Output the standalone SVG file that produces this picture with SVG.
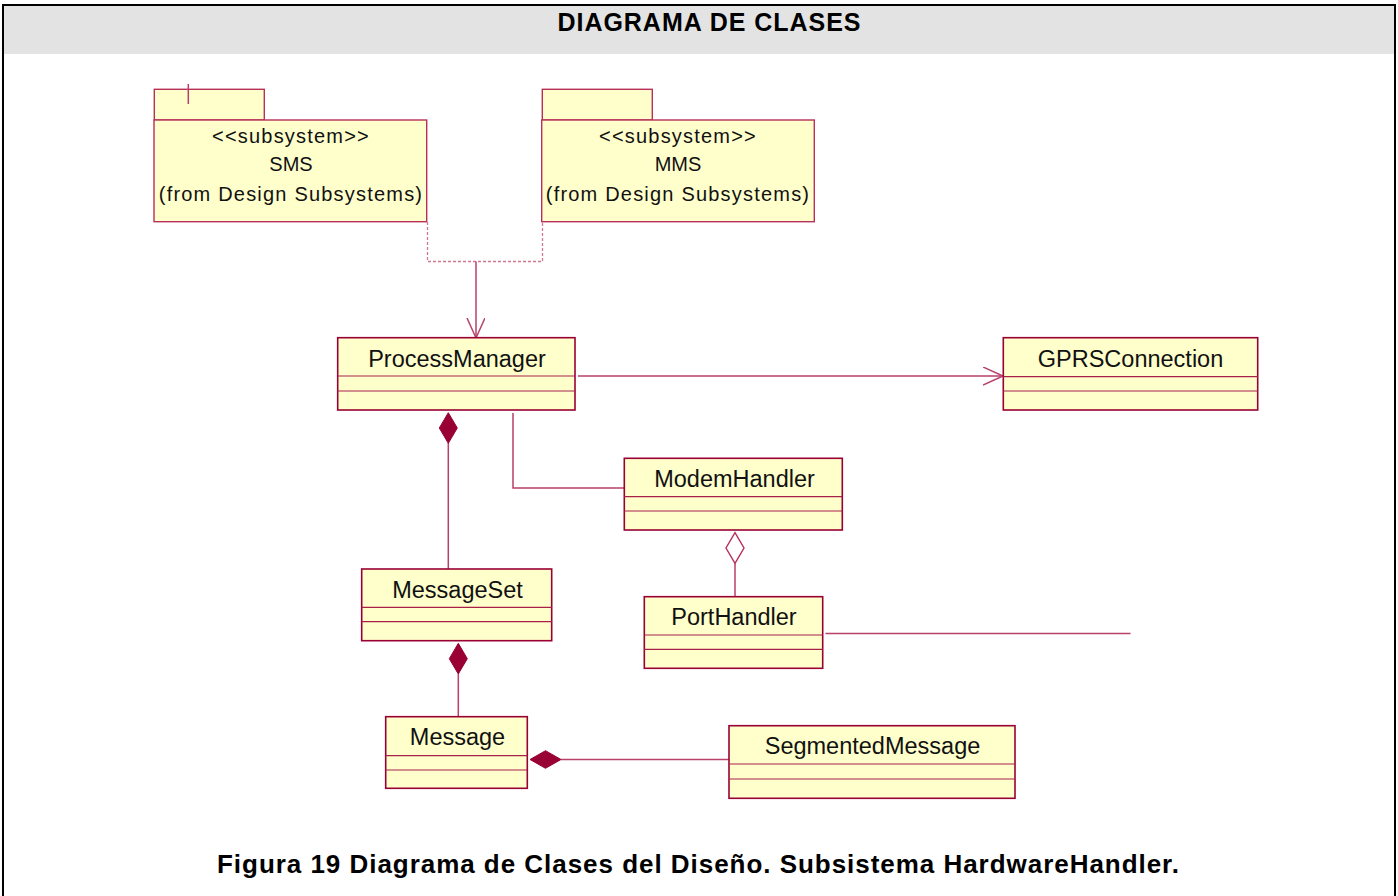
<svg xmlns="http://www.w3.org/2000/svg" width="1398" height="896" viewBox="0 0 1398 896">
  <defs>
    <style>
      .cls { fill: #FFFFCC; stroke: #990033; stroke-width: 1.6; }
      .div { stroke: #A8204A; stroke-width: 1.2; }
      .pkg { fill: #FFFFCC; stroke: #B8305A; stroke-width: 1.4; }
      .name { font-family: "Liberation Sans", Arial, sans-serif; font-size: 23.5px; fill: #111; text-anchor: middle; }
      .sub { font-family: "Liberation Sans", Arial, sans-serif; font-size: 20px; fill: #111; text-anchor: middle; letter-spacing: 1.2px; }
      .conn { stroke: #B8406A; stroke-width: 1.5; fill: none; }
      .dep { stroke: #D07890; stroke-width: 1.3; fill: none; stroke-dasharray: 3 2; }
      .frame { stroke: #000; stroke-width: 2; fill: none; }
      .head { font-family: "Liberation Sans", Arial, sans-serif; font-weight: bold; fill: #000; text-anchor: middle; }
    </style>
    <marker id="open" markerWidth="22" markerHeight="20" refX="20" refY="9" orient="auto" markerUnits="userSpaceOnUse">
      <path d="M0,0 L20,9 L0,18" fill="none" stroke="#B8406A" stroke-width="1.5"/>
    </marker>
  </defs>

  <!-- page frame and header band -->
  <rect x="3" y="6" width="1392" height="48" fill="#E3E3E3"/>
  <line class="frame" x1="3" y1="5" x2="1395" y2="5"/>
  <line class="frame" x1="3" y1="4" x2="3" y2="896"/>
  <line class="frame" x1="1395" y1="4" x2="1395" y2="896"/>
  <text class="head" x="709" y="31" font-size="25" textLength="303" lengthAdjust="spacing">DIAGRAMA DE CLASES</text>

  <!-- connectors -->
  <g id="connectors">
    <path class="dep" d="M427.5,222 V261.5 H542.5 V222"/>
    <line class="conn" x1="476" y1="261.5" x2="476" y2="338" marker-end="url(#open)"/>
    <line class="conn" x1="578" y1="376" x2="1003" y2="376" marker-end="url(#open)"/>
    <path class="conn" d="M513,413 V488 H624"/>
    <line class="conn" x1="448.3" y1="443" x2="448.3" y2="569"/>
    <path d="M448.3,412.7 L457.3,428 L448.3,443.3 L439.3,428 Z" fill="#990033" stroke="#990033" stroke-width="1"/>
    <line class="conn" x1="735" y1="563.3" x2="735" y2="596.7"/>
    <path d="M735,532.7 L744,548 L735,563.3 L726,548 Z" fill="#FFFFFF" stroke="#B8305A" stroke-width="1.4"/>
    <line class="conn" x1="825.5" y1="633.5" x2="1130.5" y2="633.5"/>
    <line class="conn" x1="458.3" y1="674" x2="458.3" y2="716.7"/>
    <path d="M458.3,643.3 L467.3,658.7 L458.3,674 L449.3,658.7 Z" fill="#990033" stroke="#990033" stroke-width="1"/>
    <line class="conn" x1="561" y1="759.5" x2="729" y2="759.5"/>
    <path d="M530,759.5 L545.5,750.7 L561,759.5 L545.5,768.3 Z" fill="#990033" stroke="#990033" stroke-width="1"/>
  </g>

  <!-- subsystem SMS -->
  <g id="sms">
    <rect class="pkg" x="154.3" y="89.3" width="110" height="30.7"/>
    <line class="conn" x1="188.3" y1="84" x2="188.3" y2="104"/>
    <rect class="pkg" x="154" y="120" width="272.7" height="101.7"/>
    <text class="sub" x="291" y="143">&lt;&lt;subsystem&gt;&gt;</text>
    <text class="sub" x="291" y="171" style="letter-spacing:0">SMS</text>
    <text class="sub" x="291" y="201">(from Design Subsystems)</text>
  </g>

  <!-- subsystem MMS -->
  <g id="mms">
    <rect class="pkg" x="542.3" y="89.3" width="110" height="30.7"/>
    <rect class="pkg" x="541.7" y="120" width="272.6" height="101.7"/>
    <text class="sub" x="678" y="143">&lt;&lt;subsystem&gt;&gt;</text>
    <text class="sub" x="678" y="171" style="letter-spacing:0">MMS</text>
    <text class="sub" x="678" y="201">(from Design Subsystems)</text>
  </g>

  <!-- ProcessManager -->
  <g id="ProcessManager">
    <rect class="cls" x="337.7" y="337.7" width="237.3" height="72.3"/>
    <line class="div" x1="337.7" y1="376" x2="575" y2="376"/>
    <line class="div" x1="337.7" y1="391" x2="575" y2="391"/>
    <text class="name" x="457" y="367">ProcessManager</text>
  </g>

  <!-- GPRSConnection -->
  <g id="GPRSConnection">
    <rect class="cls" x="1003.3" y="337.7" width="254.4" height="72.3"/>
    <line class="div" x1="1003.3" y1="376.7" x2="1257.7" y2="376.7"/>
    <line class="div" x1="1003.3" y1="391" x2="1257.7" y2="391"/>
    <text class="name" x="1130.5" y="366.7">GPRSConnection</text>
  </g>

  <!-- ModemHandler -->
  <g id="ModemHandler">
    <rect class="cls" x="624.3" y="458.3" width="218" height="71.7"/>
    <line class="div" x1="624.3" y1="496.7" x2="842.3" y2="496.7"/>
    <line class="div" x1="624.3" y1="511" x2="842.3" y2="511"/>
    <text class="name" x="734.5" y="487.3">ModemHandler</text>
  </g>

  <!-- PortHandler -->
  <g id="PortHandler">
    <rect class="cls" x="644.3" y="596.7" width="178.4" height="71.6"/>
    <line class="div" x1="644.3" y1="635" x2="822.7" y2="635"/>
    <line class="div" x1="644.3" y1="649.3" x2="822.7" y2="649.3"/>
    <text class="name" x="734" y="625">PortHandler</text>
  </g>

  <!-- MessageSet -->
  <g id="MessageSet">
    <rect class="cls" x="361.7" y="569" width="190" height="71.7"/>
    <line class="div" x1="361.7" y1="607.3" x2="551.7" y2="607.3"/>
    <line class="div" x1="361.7" y1="621.7" x2="551.7" y2="621.7"/>
    <text class="name" x="457.5" y="597.7">MessageSet</text>
  </g>

  <!-- Message -->
  <g id="Message">
    <rect class="cls" x="385.7" y="716.7" width="141.6" height="71.6"/>
    <line class="div" x1="385.7" y1="755.7" x2="527.3" y2="755.7"/>
    <line class="div" x1="385.7" y1="770" x2="527.3" y2="770"/>
    <text class="name" x="457.5" y="745">Message</text>
  </g>

  <!-- SegmentedMessage -->
  <g id="SegmentedMessage">
    <rect class="cls" x="729" y="725.7" width="286" height="72.6"/>
    <line class="div" x1="729" y1="764" x2="1015" y2="764"/>
    <line class="div" x1="729" y1="779" x2="1015" y2="779"/>
    <text class="name" x="872.5" y="754.3">SegmentedMessage</text>
  </g>

  <!-- figure caption -->
  <text class="head" x="698" y="873" font-size="26" textLength="962" lengthAdjust="spacing">Figura 19 Diagrama de Clases del Diseño. Subsistema HardwareHandler.</text>
</svg>
